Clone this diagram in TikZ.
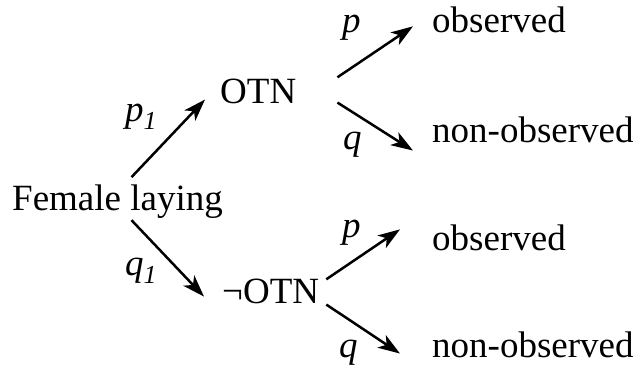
\documentclass[tikz,border=0pt]{standalone}
\usepackage{fontspec}
\setmainfont{Liberation Serif}
\usetikzlibrary{arrows.meta}
\begin{document}
\begin{tikzpicture}[
      x=1pt, y=-1pt,
      font=\fontsize{37}{40}\selectfont,
      word/.style={anchor=base west, inner sep=0pt},
      prob/.style={anchor=base west, inner sep=0pt, font=\fontsize{37}{40}\selectfont\itshape},
      branch/.style={draw=black, -{Stealth[length=22pt,width=15pt,inset=6pt]}, line width=2.5pt}
    ]
    \useasboundingbox (0,0) rectangle (637,369);

    % Root and first split.
    \node[word] (fem) at (12,210) {Female laying};
    \node[word] (otn) at (220,103) {OTN};
    \node[word] (notn) at (222,303) {¬OTN};
    \draw[branch] ([xshift=14pt,yshift=7pt]fem.north) -- ([xshift=-15pt,yshift=4pt]otn.south west);
    \draw[branch] ([xshift=14pt,yshift=-2pt]fem.south) -- ([xshift=-18pt,yshift=7pt]notn.south west);
    \node[prob] (p1) at (125,121) {p\textsubscript{1}};
    \node[prob] (q1) at (125,275) {q\textsubscript{1}};

    % Outcomes after OTN.
    \node[word] (obsa) at (432,33) {observed};
    \node[word] (nona) at (432,142) {non-observed};
    \draw[branch] ([xshift=41pt,yshift=1pt]otn.north east) -- ([xshift=-19pt,yshift=-6pt]obsa.west);
    \draw[branch] ([xshift=41pt,yshift=1pt]otn.south east) -- ([xshift=-19pt,yshift=-8pt]nona.south west);
    \node[prob] (pa) at (342,33) {p};
    \node[prob] (qa) at (343,149) {q};

    % Outcomes after not OTN.
    \node[word] (obsb) at (432,250) {observed};
    \node[word] (nonb) at (432,357) {non-observed};
    \draw[branch] ([xshift=7pt,yshift=-1pt]notn.north east) -- ([xshift=-32pt,yshift=8pt]obsb.west);
    \draw[branch] ([xshift=7pt,yshift=-1pt]notn.south east) -- ([xshift=-32pt,yshift=4pt]nonb.south west);
    \node[prob] (pb) at (342,237) {p};
    \node[prob] (qb) at (339,357) {q};
  \end{tikzpicture}
\end{document}
